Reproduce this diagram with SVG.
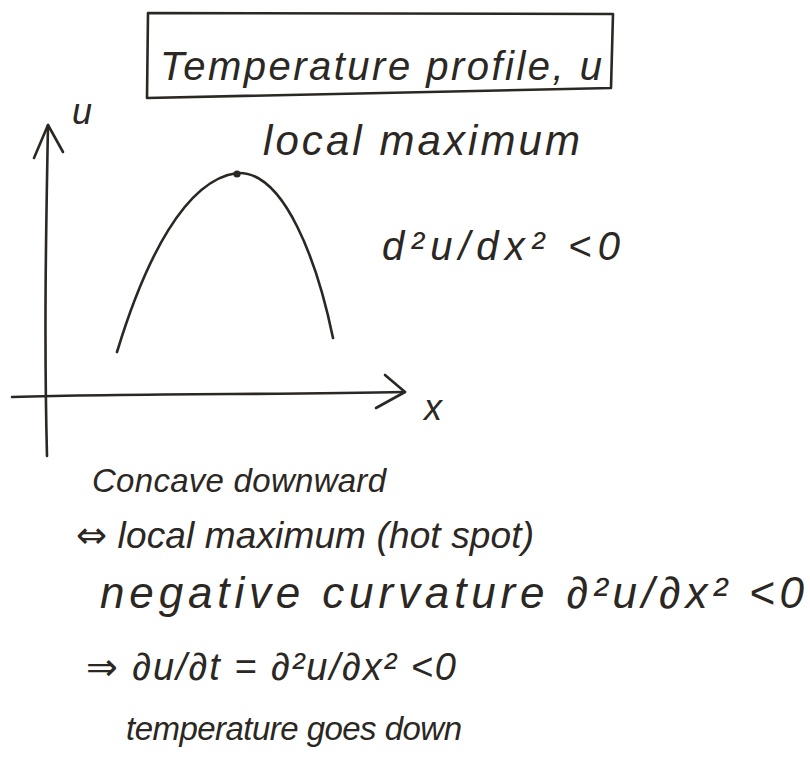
<svg xmlns="http://www.w3.org/2000/svg" width="810" height="768" viewBox="0 0 810 768">
<style>
.ink{fill:none;stroke:#2b2723;stroke-width:2.6;stroke-linecap:round;stroke-linejoin:round}
.t{font-family:"Liberation Sans","DejaVu Sans",sans-serif;font-style:italic;fill:#2b2723}
.a{font-family:"DejaVu Sans",sans-serif;font-style:normal}
</style>
<rect width="810" height="768" fill="#ffffff"/>
<g id="title">
<path class="ink" d="M148,13 L613,14 L611,88 L147,98 Z"/>
<text class="t" x="160" y="80" textLength="442" lengthAdjust="spacing" style="font-size:40px">Temperature profile, u</text>
</g>
<g id="axes">
<path class="ink" d="M48,125 C46,230 44,340 47,456"/>
<path class="ink" d="M34,158 L48,125 L63,152"/>
<path class="ink" d="M12,397 C150,393 280,395 405,392"/>
<path class="ink" d="M385,375 L405,392 L376,408"/>
<text class="t" x="72" y="124" style="font-size:36px">u</text>
<text class="t" x="424" y="420" style="font-size:36px">x</text>
</g>
<g id="curve">
<path class="ink" d="M117,352 C145,260 185,180 237,173 C285,170 318,265 333,338"/>
<circle cx="237" cy="174" r="3.6" fill="#2b2723"/>
</g>
<g id="labels">
<text class="t" x="263" y="155" textLength="317" lengthAdjust="spacing" style="font-size:42px">local maximum</text>
<text class="t" x="382" y="260" textLength="238" lengthAdjust="spacing" style="font-size:40px">d²u/dx² &lt;0</text>
</g>
<g id="notes">
<text class="t" x="92" y="492" textLength="294" lengthAdjust="spacing" style="font-size:33px">Concave downward</text>
<text class="t" x="76" y="548" textLength="458" lengthAdjust="spacing" style="font-size:37px"><tspan class="a">⇔</tspan> local maximum (hot spot)</text>
<text class="t" x="100" y="608" textLength="704" lengthAdjust="spacing" style="font-size:44px">negative curvature ∂²u/∂x² &lt;0</text>
<text class="t" x="86" y="680" textLength="370" lengthAdjust="spacing" style="font-size:38px"><tspan class="a">⇒</tspan> ∂u/∂t = ∂²u/∂x² &lt;0</text>
<text class="t" x="126" y="740" textLength="336" lengthAdjust="spacing" style="font-size:33px">temperature goes down</text>
</g>
</svg>
